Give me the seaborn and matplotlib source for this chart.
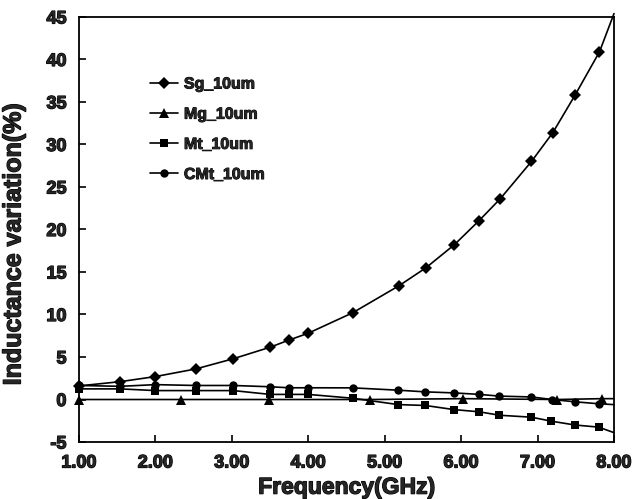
import numpy as np
import pandas as pd
import matplotlib
matplotlib.use("Agg")
import matplotlib.pyplot as plt
import matplotlib.patheffects as pe
import seaborn as sns

# ---- data ----
sg_f = [1.00, 1.54, 2.00, 2.53, 3.02, 3.50, 3.75, 4.00, 4.58, 5.19, 5.54, 5.91, 6.23, 6.51, 6.92, 7.20, 7.49, 7.81, 8.00]
sg_v = [1.6, 2.1, 2.7, 3.6, 4.8, 6.15, 7.0, 7.8, 10.2, 13.4, 15.5, 18.2, 21.0, 23.6, 28.0, 31.4, 35.8, 40.9, 45.4]

mg_f = [1.00, 2.34, 3.48, 4.81, 6.03, 7.26, 7.84, 8.00]
mg_v = [0.0, 0.0, 0.0, 0.0, 0.1, 0.0, 0.1, 0.1]

mt_f = [1.00, 1.54, 2.00, 2.53, 3.02, 3.50, 3.75, 4.00, 4.58, 5.18, 5.53, 5.90, 6.24, 6.50, 6.92, 7.18, 7.49, 7.80, 8.00]
mt_v = [1.25, 1.25, 1.05, 1.05, 1.05, 0.6, 0.6, 0.6, 0.15, -0.6, -0.7, -1.18, -1.45, -1.85, -2.08, -2.55, -3.0, -3.25, -3.9]

cmt_f = [1.00, 1.54, 2.00, 2.53, 3.02, 3.50, 3.75, 4.00, 4.58, 5.17, 5.53, 5.90, 6.24, 6.50, 6.92, 7.19, 7.49, 7.80, 8.00]
cmt_v = [1.65, 1.55, 1.75, 1.65, 1.65, 1.5, 1.38, 1.38, 1.37, 1.1, 0.9, 0.78, 0.6, 0.4, 0.3, 0.0, -0.27, -0.5, -0.6]

series_names = ["Sg_10um", "Mg_10um", "Mt_10um", "CMt_10um"]
x_ticks = [1, 2, 3, 4, 5, 6, 7, 8]
y_ticks = [-5, 0, 5, 10, 15, 20, 25, 30, 35, 40, 45]

sns.set_theme(style="white")
plt.rcParams["font.family"] = ["Liberation Sans", "DejaVu Sans"]
plt.rcParams["font.weight"] = "bold"

heavy = [pe.withStroke(linewidth=0.9, foreground="black")]

fig = plt.figure(figsize=(6.33, 4.99), dpi=100)
ax = fig.add_axes([0.1248, 0.1142, 0.8452, 0.8518])

data = [(sg_f, sg_v, "D", 6.0), (mg_f, mg_v, "^", 6.5),
        (mt_f, mt_v, "s", 5.8), (cmt_f, cmt_v, "o", 6.0)]
for (f, v, mk, ms), name in zip(data, series_names):
    df = pd.DataFrame({"f": f, "v": v})
    sns.lineplot(data=df, x="f", y="v", ax=ax, color="black", lw=1.2,
                 marker=mk, markersize=ms, markeredgewidth=0,
                 markevery=list(range(len(f) - 1)), label=name,
                 sort=False, clip_on=False)

ax.set_xlim(1, 8)
ax.set_ylim(-5, 45)
ax.set_xticks(x_ticks)
ax.set_xticklabels([f"{t:.2f}" for t in x_ticks])
ax.set_yticks(y_ticks)
ax.set_yticklabels([str(t) for t in y_ticks])
ax.tick_params(axis="both", direction="in", length=5, width=1.2, color="black",
               labelsize=13, bottom=True, left=True)
ax.tick_params(axis="x", pad=9)
ax.tick_params(axis="y", pad=9)
for lab in ax.get_xticklabels() + ax.get_yticklabels():
    lab.set_fontweight("heavy")
    lab.set_path_effects(heavy)
for s in ax.spines.values():
    s.set_color("black")
    s.set_linewidth(1.3)

xl = ax.set_xlabel("Frequency(GHz)", fontsize=16.5, fontweight="heavy", labelpad=3)
yl = ax.set_ylabel("Inductance variation(%)", fontsize=18, fontweight="heavy")
ax.yaxis.set_label_coords(-0.1, 0.465)
xl.set_path_effects(heavy)
yl.set_path_effects(heavy)

leg = ax.legend(loc="upper left", bbox_to_anchor=(0.12, 0.875), frameon=False,
                fontsize=11.5, handlelength=1.8, handletextpad=0.35,
                labelspacing=0.95, borderaxespad=0)
for t in leg.get_texts():
    t.set_fontweight("heavy")
    t.set_path_effects([pe.withStroke(linewidth=0.7, foreground="black")])

fig.savefig("out.png", dpi=100)
